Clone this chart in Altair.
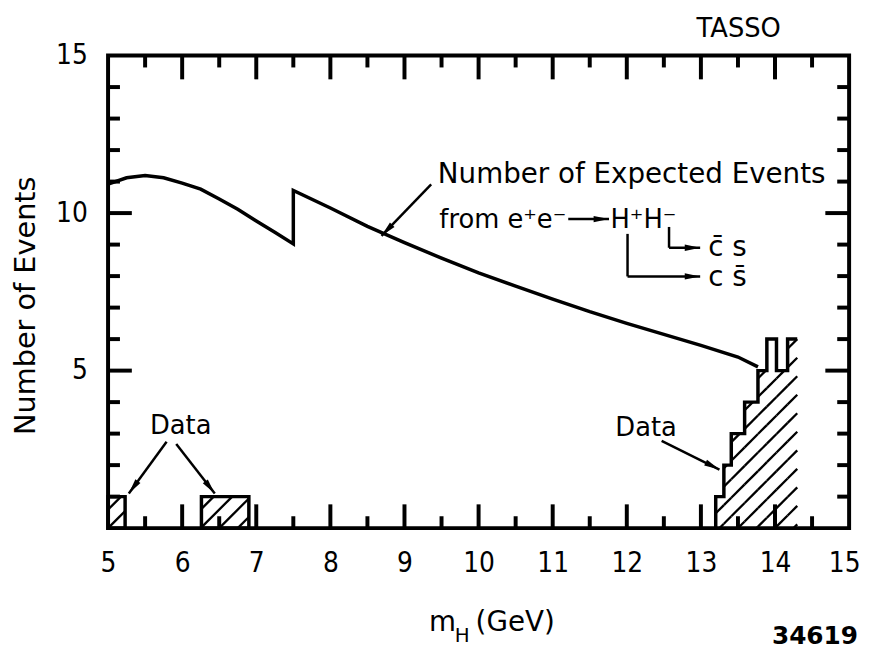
import math
import altair as alt
import pandas as pd

# ---------------- data ----------------
curve_x = [5.0, 5.25, 5.5, 5.75, 6.0, 6.25, 6.5, 6.75, 7.0, 7.25, 7.5,
           7.5, 8.0, 8.5, 9.0, 9.5, 10.0, 10.5, 11.0, 11.5, 12.0, 12.5, 13.0, 13.5, 13.77]
curve_y = [10.92, 11.12, 11.19, 11.12, 10.95, 10.76, 10.45, 10.12, 9.75, 9.39, 9.02,
           10.72, 10.16, 9.58, 9.06, 8.57, 8.10, 7.68, 7.27, 6.87, 6.50, 6.15, 5.80, 5.43, 5.12]

bin_lo = [5.0, 6.26, 13.20, 13.31, 13.41, 13.59, 13.77, 13.89, 14.02, 14.17]
bin_hi = [5.23, 6.90, 13.31, 13.41, 13.59, 13.77, 13.89, 14.02, 14.17, 14.30]
bin_n = [1, 1, 1, 2, 3, 4, 5, 6, 5, 6]
bin_hatched = [1, 1, 1, 2, 3, 4, 5, 5, 5, 6]

x_labels = list(range(5, 16))
y_labels = [5, 10, 15]
x_ticks_major = list(range(6, 15))
x_ticks_minor = [5.5 + i for i in range(10)]
y_ticks_major = [5, 10]
y_ticks_minor = [v for v in range(1, 15) if v % 5]

# annotation arrows (start -> tip)
arrow_x0 = [9.36, 5.79, 5.92, 12.47, 12.57, 12.57, 12.01, 12.01, 11.21]
arrow_y0 = [10.91, 2.74, 2.67, 2.77, 9.56, 8.90, 9.34, 7.99, 9.81]
arrow_x1 = [8.69, 5.28, 6.44, 13.25, 12.57, 12.99, 12.01, 12.99, 11.76]
arrow_y1 = [9.28, 1.10, 1.10, 1.86, 8.90, 8.90, 7.99, 7.99, 9.81]
arrow_head = [1, 1, 1, 1, 0, 1, 0, 1, 1]

note_text = ["Number of Expected Events", "from e\u207ae\u207b", "H\u207aH\u207b", "c\u0304 s", "c s\u0304"]
note_x = [9.45, 9.47, 11.78, 13.10, 13.10]
note_y = [10.94, 9.53, 9.53, 8.65, 7.70]
note_size = [28, 26, 26, 28, 28]

data_text = ["Data", "Data"]
data_x = [5.98, 12.26]
data_y = [2.99, 2.92]

# ---------------- layout ----------------
W, H = 748, 477
PX, PY = W / 10, H / 15
FONT = "DejaVu Sans"
NUMFONT = "DejaVu Sans Condensed"
LONG, SHORT = 24, 12

XS = alt.Scale(domain=[5, 15], nice=False, zero=False)
YS = alt.Scale(domain=[0, 15], nice=False, zero=False)


def ax(**kw):
    base = dict(grid=False, domain=False, title=None, labelFlush=False, labelOverlap=False,
                tickColor="black", tickWidth=4, labelColor="black")
    base.update(kw)
    return alt.Axis(**base)


# ---------------- tables ----------------
curve_df = pd.DataFrame({"x": curve_x, "y": curve_y, "i": range(len(curve_x))})
bins_df = pd.DataFrame({"lo": bin_lo, "hi": bin_hi, "n": bin_n})

slope = PX / PY
step = 0.25
hx, hy, hx2, hy2 = [], [], [], []
for lo, hi, n in zip(bin_lo, bin_hi, bin_hatched):
    for k in range(80):
        c = 3.0 + k * step
        xa = max(lo, c)
        xb = min(hi, c + n / slope)
        if xb - xa > 1e-6:
            hx.append(xa); hy.append((xa - c) * slope)
            hx2.append(xb); hy2.append((xb - c) * slope)
hatch_df = pd.DataFrame({"x": hx, "y": hy, "x2": hx2, "y2": hy2})

rx = bin_lo[2:]
step_df = pd.DataFrame({
    "x": [rx[0]] + rx + [bin_hi[-1]],
    "y": [0] + bin_n[2:] + [bin_n[-1]],
})
step_df["i"] = range(len(step_df))

arrows_df = pd.DataFrame({"x": arrow_x0, "y": arrow_y0, "x2": arrow_x1, "y2": arrow_y1, "h": arrow_head})
ang = []
for a, b, c, d in zip(arrow_x0, arrow_y0, arrow_x1, arrow_y1):
    dxp = (c - a) * PX
    dyp = -(d - b) * PY
    ang.append(math.degrees(math.atan2(dxp, -dyp)) % 360)
arrows_df["ang"] = ang
heads_df = arrows_df[arrows_df.h == 1]

notes_df = pd.DataFrame({"t": note_text, "x": note_x, "y": note_y, "s": note_size})
data_df = pd.DataFrame({"t": data_text, "x": data_x, "y": data_y})

# ---------------- layers ----------------
curve = alt.Chart(curve_df).mark_line(color="black", strokeWidth=3.5).encode(
    x=alt.X("x:Q", scale=XS, axis=ax(orient="bottom", values=x_labels, tickSize=0, labelPadding=22,
                                     labelFont=NUMFONT, labelFontSize=28, format="d",
                                     labelOffset={"condition": {"test": "datum.value >= 15", "value": -5},
                                                  "value": 0})),
    y=alt.Y("y:Q", scale=YS, axis=ax(orient="left", values=y_labels, tickSize=0, labelPadding=21,
                                     labelFont=NUMFONT, labelFontSize=28, format="d",
                                     title="Number of Events", titleFont=FONT, titleFontSize=29,
                                     titleFontWeight="normal", titleColor="black", titleAngle=270,
                                     titleX=-83, titleY=252, titleAlign="center", titleBaseline="middle")),
    order="i:Q",
)


def tick_layer(values, channel, side, length):
    base = alt.Chart(pd.DataFrame({"v": values})).mark_rule(color="black", strokeWidth=4)
    if channel == "x":
        y0, y1 = (H, H - length) if side == "bottom" else (0, length)
        return base.encode(x=alt.X("v:Q", scale=XS, axis=None), y=alt.value(y0), y2=alt.value(y1))
    x0, x1 = (0, length) if side == "left" else (W, W - length)
    return base.encode(y=alt.Y("v:Q", scale=YS, axis=None), x=alt.value(x0), x2=alt.value(x1))


ticks = [
    tick_layer(x_ticks_major, "x", "bottom", LONG),
    tick_layer(x_ticks_minor, "x", "bottom", SHORT),
    tick_layer(x_ticks_major, "x", "top", LONG),
    tick_layer(x_ticks_minor, "x", "top", SHORT),
    tick_layer(y_ticks_major, "y", "left", LONG),
    tick_layer(y_ticks_minor, "y", "left", SHORT),
    tick_layer(y_ticks_major, "y", "right", LONG),
    tick_layer(y_ticks_minor, "y", "right", SHORT),
]

rects = alt.Chart(bins_df).transform_filter("datum.lo < 10").mark_rect(
    fillOpacity=0, stroke="black", strokeWidth=3.5).encode(
    x=alt.X("lo:Q", scale=XS, axis=None),
    x2="hi:Q",
    y=alt.Y("n:Q", scale=YS, axis=None),
    y2=alt.datum(0),
)

hatch = alt.Chart(hatch_df).mark_rule(color="black", strokeWidth=2.3).encode(
    x=alt.X("x:Q", scale=XS, axis=None),
    y=alt.Y("y:Q", scale=YS, axis=None),
    x2="x2:Q", y2="y2:Q",
)

steps = alt.Chart(step_df).mark_line(color="black", strokeWidth=3.5, interpolate="step-after").encode(
    x=alt.X("x:Q", scale=XS, axis=None),
    y=alt.Y("y:Q", scale=YS, axis=None),
    order="i:Q",
)

arrows = alt.Chart(arrows_df).mark_rule(color="black", strokeWidth=2.5).encode(
    x=alt.X("x:Q", scale=XS, axis=None),
    y=alt.Y("y:Q", scale=YS, axis=None),
    x2="x2:Q", y2="y2:Q",
)

heads = alt.Chart(heads_df).mark_point(
    shape="M0,0L-0.45,2.2L0.45,2.2Z", filled=True, color="black", opacity=1, size=200).encode(
    x=alt.X("x2:Q", scale=XS, axis=None),
    y=alt.Y("y2:Q", scale=YS, axis=None),
    angle=alt.Angle("ang:Q", scale=None),
)

notes = alt.Chart(notes_df).mark_text(font=FONT, align="left", baseline="alphabetic", color="black").encode(
    x=alt.X("x:Q", scale=XS, axis=None),
    y=alt.Y("y:Q", scale=YS, axis=None),
    text="t:N",
    size=alt.Size("s:Q", scale=None),
)

data_lbls = alt.Chart(data_df).mark_text(font=FONT, fontSize=26, align="center", baseline="alphabetic",
                                         color="black").encode(
    x=alt.X("x:Q", scale=XS, axis=None),
    y=alt.Y("y:Q", scale=YS, axis=None),
    text="t:N",
)


def fixed_text(t, px, py, size, align="left", weight="normal"):
    return alt.Chart(pd.DataFrame({"t": [t]})).mark_text(
        font=FONT, fontSize=size, align=align, baseline="alphabetic", color="black", fontWeight=weight
    ).encode(x=alt.value(px), y=alt.value(py), text="t:N")


xt_m = fixed_text("m", 324, 581, 28)
xt_h = fixed_text("H", 350, 592, 20)
xt_g = fixed_text("(GeV)", 371, 581, 28)
tasso = fixed_text("TASSO", 594, -19, 26)
num = fixed_text("34619", 757, 594, 25, align="right", weight="bold")

chart = alt.layer(
    curve, *ticks, rects, hatch, steps, arrows, heads, notes, data_lbls, xt_m, xt_h, xt_g, tasso, num
).resolve_axis(x="independent", y="independent").properties(
    width=W, height=H,
    autosize=alt.AutoSizeParams(type="none"),
    padding={"left": 101, "top": 45, "right": 12, "bottom": 120},
    background="white",
).configure_view(stroke="black", strokeWidth=4)

chart.save("out.html", embed_options={"renderer": "svg", "actions": False})
